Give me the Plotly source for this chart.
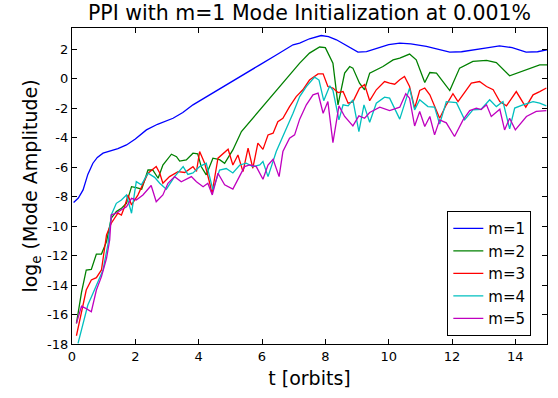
import plotly.graph_objects as go

x_m1 = [0.05, 0.2, 0.35, 0.5, 0.66, 0.8, 0.98, 1.2, 1.45, 1.72, 2.0, 2.35, 2.7, 3.19, 3.5, 3.82, 4.3, 4.87, 5.4, 5.93, 6.45, 6.98, 7.19, 7.5, 7.87, 8.1, 8.35, 8.7, 9.03, 9.3, 9.7, 10.0, 10.35, 10.7, 11.19, 11.6, 11.93, 12.3, 12.77, 13.1, 13.5, 13.9, 14.34, 14.7, 15.0]
y_m1 = [-8.4, -8.1, -7.55, -6.5, -5.74, -5.35, -5.06, -4.9, -4.75, -4.5, -4.1, -3.48, -3.1, -2.69, -2.3, -1.78, -1.15, -0.42, 0.25, 0.93, 1.6, 2.29, 2.41, 2.7, 2.92, 2.85, 2.63, 2.2, 1.8, 1.83, 2.1, 2.3, 2.41, 2.35, 2.18, 1.98, 1.8, 1.82, 1.95, 2.08, 2.22, 2.1, 1.8, 1.82, 1.95]

x_m2 = [0.14, 0.3, 0.45, 0.61, 0.77, 0.93, 1.09, 1.24, 1.4, 1.56, 1.72, 1.88, 2.03, 2.2, 2.4, 2.55, 2.72, 2.87, 3.14, 3.3, 3.4, 3.61, 3.82, 3.97, 4.08, 4.24, 4.45, 4.66, 4.82, 5.08, 5.35, 5.93, 6.45, 6.98, 7.19, 7.5, 7.82, 8.0, 8.24, 8.4, 8.61, 8.77, 8.87, 9.08, 9.24, 9.4, 9.61, 9.82, 10.14, 10.35, 10.66, 10.87, 11.14, 11.3, 11.51, 11.93, 12.24, 12.66, 13.09, 13.4, 13.82, 14.35, 14.77, 15.0]
y_m2 = [-16.6, -14.5, -12.98, -12.94, -11.9, -11.9, -11.06, -9.47, -9.02, -8.8, -8.46, -7.33, -7.4, -7.5, -6.2, -6.2, -6.76, -5.86, -5.13, -5.3, -5.6, -5.52, -5.06, -5.1, -5.97, -6.53, -5.4, -5.5, -5.74, -4.84, -3.59, -2.12, -0.76, 0.59, 1.05, 1.73, 2.14, 2.1, 1.05, -1.78, 0.37, 0.82, 0.71, -0.31, -0.76, 0.37, 0.6, 0.82, 1.27, 1.39, 1.66, 1.27, -0.27, 0.41, 0.37, -0.81, 0.71, 1.16, 1.23, 1.09, 0.19, 0.6, 0.93, 0.93]

x_m3 = [0.14, 0.3, 0.45, 0.61, 0.77, 0.93, 1.09, 1.24, 1.45, 1.56, 1.66, 1.77, 1.88, 2.08, 2.35, 2.4, 2.66, 2.77, 2.87, 3.08, 3.35, 3.56, 3.82, 3.93, 4.03, 4.19, 4.35, 4.42, 4.61, 4.93, 5.08, 5.24, 5.4, 5.56, 5.71, 5.87, 6.03, 6.19, 6.35, 6.5, 6.66, 6.87, 7.08, 7.29, 7.5, 7.77, 7.93, 8.08, 8.24, 8.4, 8.56, 8.72, 8.87, 9.08, 9.24, 9.4, 9.61, 9.87, 10.03, 10.19, 10.35, 10.5, 10.66, 10.82, 10.98, 11.14, 11.3, 11.45, 11.61, 11.82, 12.03, 12.19, 12.45, 12.61, 12.87, 13.09, 13.3, 13.51, 13.72, 14.03, 14.33, 14.56, 14.77, 14.98]
y_m3 = [-17.44, -15.8, -14.34, -13.66, -13.5, -12.98, -10.6, -9.81, -9.13, -9.25, -8.69, -7.89, -8.57, -7.9, -6.65, -6.42, -5.97, -6.4, -7.1, -6.65, -6.31, -6.37, -5.97, -6.3, -4.95, -5.74, -7.1, -7.8, -5.4, -4.79, -5.86, -5.18, -6.31, -4.72, -6.08, -4.38, -4.8, -3.82, -3.7, -2.92, -2.7, -1.9, -1.22, -0.76, -0.1, 0.32, 0.32, -0.54, -0.64, -0.95, -0.88, -1.67, -1.58, -0.65, -0.41, -1.5, -0.76, -0.2, -0.31, -0.38, -0.08, 0.14, -0.54, -2.01, -0.81, -0.64, -1.1, -1.9, -2.69, -1.78, -1.03, -1.56, -0.76, -0.31, -0.2, -0.54, -0.76, -1.56, -1.85, -0.88, -1.94, -1.1, -0.88, -0.64]

x_m4 = [0.19, 0.35, 0.5, 0.66, 0.82, 0.98, 1.14, 1.24, 1.4, 1.56, 1.72, 1.88, 2.03, 2.19, 2.4, 2.61, 2.77, 2.98, 3.24, 3.51, 3.66, 3.82, 4.03, 4.24, 4.45, 4.66, 4.87, 5.08, 5.3, 5.5, 5.71, 5.93, 6.03, 6.19, 6.45, 6.66, 6.98, 7.19, 7.4, 7.66, 7.8, 7.95, 8.14, 8.24, 8.43, 8.56, 8.72, 8.87, 9.06, 9.22, 9.4, 9.61, 9.87, 10.03, 10.35, 10.66, 10.82, 10.98, 11.24, 11.45, 11.61, 11.82, 12.14, 12.4, 12.66, 12.92, 13.19, 13.4, 13.61, 13.82, 13.98, 14.24, 14.56, 14.77, 14.98]
y_m4 = [-17.96, -16.6, -15.36, -14.57, -13.78, -12.98, -11.17, -9.25, -8.46, -8.23, -7.89, -9.13, -6.99, -7.2, -6.42, -6.7, -7.1, -7.5, -6.65, -5.97, -6.5, -6.4, -5.97, -5.74, -7.55, -6.2, -6.1, -6.4, -5.86, -5.74, -5.97, -5.86, -5.63, -6.65, -4.95, -3.93, -2.35, -1.22, -0.54, 0.1, -0.1, -1.5, -0.49, -0.8, -2.8, -1.78, -1.85, -1.44, -3.59, -1.78, -2.96, -1.67, -1.26, -1.33, -2.75, -0.65, -2.12, -1.44, -1.9, -1.93, -3.09, -1.56, -1.63, -2.8, -2.12, -2.08, -1.44, -1.9, -1.56, -3.41, -2.0, -1.78, -1.56, -1.67, -1.85]

x_m5 = [0.14, 0.3, 0.45, 0.61, 0.77, 0.93, 1.09, 1.19, 1.24, 1.4, 1.56, 1.72, 1.88, 2.03, 2.24, 2.5, 2.66, 2.87, 3.03, 3.24, 3.45, 3.77, 3.93, 4.14, 4.29, 4.43, 4.61, 4.82, 5.08, 5.3, 5.45, 5.61, 5.82, 6.03, 6.19, 6.35, 6.54, 6.66, 6.87, 7.03, 7.19, 7.4, 7.61, 7.77, 7.93, 8.08, 8.24, 8.43, 8.61, 8.87, 9.06, 9.24, 9.4, 9.72, 10.03, 10.35, 10.54, 10.66, 10.82, 10.98, 11.14, 11.3, 11.45, 11.61, 11.82, 12.08, 12.35, 12.56, 12.77, 12.92, 13.09, 13.24, 13.51, 13.66, 13.82, 14.0, 14.35, 14.66, 14.98]
y_m5 = [-16.6, -15.43, -15.6, -15.81, -14.34, -13.43, -12.19, -10.95, -9.25, -9.13, -8.9, -8.69, -8.12, -8.23, -7.89, -7.25, -8.35, -7.89, -7.1, -6.65, -7.0, -6.65, -7.0, -7.33, -7.1, -7.89, -6.42, -7.2, -7.5, -6.65, -5.97, -5.86, -5.97, -6.83, -5.86, -5.47, -6.65, -4.95, -4.04, -3.82, -2.75, -1.78, -1.1, -0.99, -2.35, -1.56, -4.34, -1.85, -2.57, -3.21, -2.53, -2.69, -2.3, -1.94, -2.17, -1.94, -1.03, -1.33, -3.21, -2.23, -3.25, -2.57, -3.82, -2.8, -3.0, -3.93, -2.8, -2.17, -2.0, -2.1, -1.78, -2.57, -2.08, -3.48, -2.69, -3.48, -2.57, -2.23, -2.17]

series = [
    ("m=1", x_m1, y_m1, "#0000ff"),
    ("m=2", x_m2, y_m2, "#008000"),
    ("m=3", x_m3, y_m3, "#ff0000"),
    ("m=4", x_m4, y_m4, "#00bfbf"),
    ("m=5", x_m5, y_m5, "#bf00bf"),
]

x_ticks = [0, 2, 4, 6, 8, 10, 12, 14]
y_ticks = [-18, -16, -14, -12, -10, -8, -6, -4, -2, 0, 2]
y_ticktext = [str(v) for v in y_ticks]

fig = go.Figure()
for name, xs, ys, col in series:
    fig.add_trace(go.Scatter(x=xs, y=ys, mode="lines", name=name,
                             line=dict(color=col, width=1.3)))

axis_common = dict(showgrid=False, zeroline=False, showline=True, linecolor="black",
                   linewidth=1.3, mirror="ticks", ticks="inside", ticklen=5,
                   tickcolor="black", tickwidth=1,
                   tickfont=dict(family="DejaVu Sans", size=13, color="black"))

fig.update_layout(
    width=558, height=398,
    margin=dict(l=72, r=11, t=28, b=54),
    paper_bgcolor="white", plot_bgcolor="white",
    font=dict(family="DejaVu Sans", color="black"),
    title=dict(text="PPI with m=1 Mode Initialization at 0.001%", xref="paper", x=0.5,
               xanchor="center", y=0.95, yanchor="bottom",
               font=dict(size=20.5, family="DejaVu Sans")),
    xaxis=dict(range=[0, 15], tickvals=x_ticks,
               title=dict(text="t [orbits]", font=dict(size=19), standoff=8), **axis_common),
    yaxis=dict(range=[-18, 3.43], tickvals=y_ticks, ticktext=y_ticktext,
               title=dict(text="log<sub>e</sub> (Mode Amplitude)", font=dict(size=19), standoff=4),
               **axis_common),
    legend=dict(x=0.967, y=0.025, xanchor="right", yanchor="bottom",
                bordercolor="black", borderwidth=1, bgcolor="white",
                font=dict(size=15, family="DejaVu Sans"), itemwidth=30, tracegroupgap=0),
    showlegend=True,
)

fig.write_html("out.html")
